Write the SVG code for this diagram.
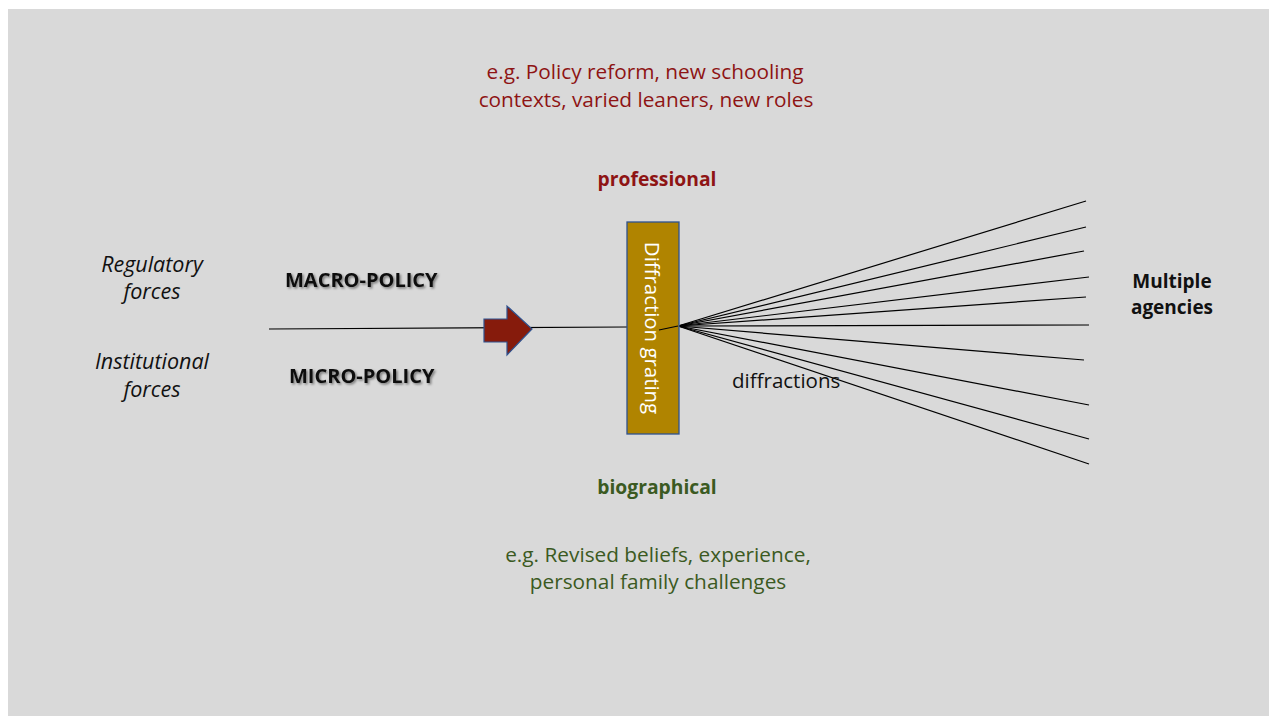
<svg xmlns="http://www.w3.org/2000/svg" width="1269" height="716" viewBox="0 0 1269 716">
<defs>
<style>
text { font-family: "Open Sans", "Liberation Sans", sans-serif; }
.red { fill: #8E1414; font-size: 20.8px; text-anchor: middle; }
.green { fill: #3B5A22; font-size: 20.8px; text-anchor: middle; }
.redb { fill: #8E1414; font-size: 19.3px; font-weight: bold; text-anchor: middle; }
.greenb { fill: #3B5A22; font-size: 19.3px; font-weight: bold; text-anchor: middle; }
.ital { fill: #111; font-size: 21.5px; font-style: italic; text-anchor: middle; }
.pol { fill: #111; font-size: 20px; font-weight: bold; filter: url(#shadow); }
.blk { fill: #111; font-size: 20.5px; }
.blkb { fill: #111; font-size: 19px; font-weight: bold; text-anchor: middle; }
.ray { stroke: #000; stroke-width: 1.2; fill: none; }
</style>
<filter id="shadow" x="-10%" y="-30%" width="130%" height="170%">
<feDropShadow dx="1.5" dy="1.5" stdDeviation="0.8" flood-color="#000" flood-opacity="0.45"/>
</filter>
</defs>
<rect x="8" y="9" width="1261" height="707" fill="#D9D9D9"/>

<g id="top-note">
<text class="red" x="645" y="79">e.g. Policy reform, new schooling</text>
<text class="red" x="646" y="107">contexts, varied leaners, new roles</text>
</g>
<g id="professional"><text class="redb" x="657" y="186">professional</text></g>
<g id="biographical"><text class="greenb" x="657" y="494">biographical</text></g>
<g id="bottom-note">
<text class="green" x="658" y="562">e.g. Revised beliefs, experience,</text>
<text class="green" x="658" y="589">personal family challenges</text>
</g>
<g id="regulatory">
<text class="ital" x="152" y="272">Regulatory</text>
<text class="ital" x="152" y="299">forces</text>
</g>
<g id="institutional">
<text class="ital" x="152" y="369">Institutional</text>
<text class="ital" x="152" y="397">forces</text>
</g>
<g id="macro"><text class="pol" x="285" y="287">MACRO-POLICY</text></g>
<g id="micro"><text class="pol" x="289" y="383">MICRO-POLICY</text></g>
<g id="agencies">
<text class="blkb" x="1172" y="288">Multiple</text>
<text class="blkb" x="1172" y="314">agencies</text>
</g>

<g id="connectors">
<line class="ray" x1="269" y1="329" x2="627" y2="327"/>
<line class="ray" x1="678" y1="326" x2="1086" y2="201"/>
<line class="ray" x1="678" y1="326" x2="1086" y2="227"/>
<line class="ray" x1="678" y1="326" x2="1084" y2="251"/>
<line class="ray" x1="678" y1="326" x2="1089" y2="277"/>
<line class="ray" x1="678" y1="326" x2="1086" y2="297"/>
<line class="ray" x1="678" y1="326" x2="1089" y2="325"/>
<line class="ray" x1="678" y1="326" x2="1084" y2="360"/>
<line class="ray" x1="678" y1="326" x2="1089" y2="405"/>
<line class="ray" x1="678" y1="326" x2="1089" y2="439"/>
<line class="ray" x1="678" y1="326" x2="1089" y2="464"/>
</g>

<g id="arrow">
<polygon points="484,319 507,319 507,306 532,329 507,355 507,342 484,342" fill="#861B0C" stroke="#2F528F" stroke-width="1.2"/>
</g>

<g id="grating">
<rect x="627" y="222" width="52" height="212" fill="#B08400" stroke="#2F528F" stroke-width="1.3"/>
<text x="0" y="0" fill="#FFFFFF" font-size="20.4" text-anchor="middle" transform="translate(645,328) rotate(90)">Diffraction grating</text>
</g>
<line class="ray" x1="659" y1="330" x2="678" y2="326"/>

<g id="diffractions"><text class="blk" x="732" y="388">diffractions</text></g>
</svg>
